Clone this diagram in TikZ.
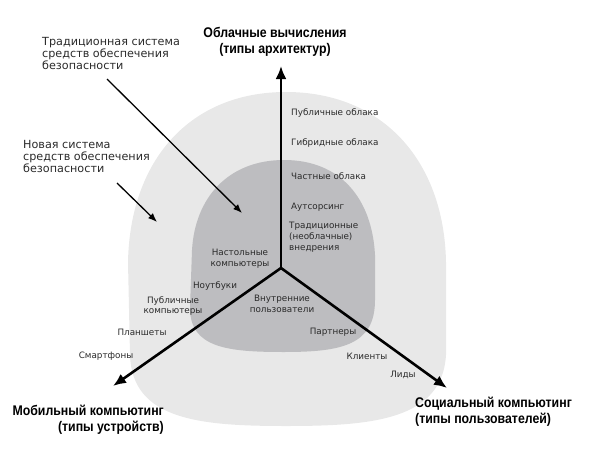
\documentclass[tikz,border=0pt]{standalone}
\usepackage{fontspec}
\setmainfont{DejaVu Sans}
\newfontfamily\titlefont[FakeStretch=0.88]{Liberation Sans}
\usetikzlibrary{arrows.meta}
\definecolor{outerfill}{HTML}{E8E8E8}
\definecolor{innerfill}{HTML}{BDBDC0}
\definecolor{txt}{HTML}{2A2A2A}
\tikzset{
  lbl/.style={inner sep=0pt, text=txt, font=\fontsize{8.8}{10.8}\selectfont, align=center},
  lbll/.style={lbl, align=left, anchor=west},
  note/.style={inner sep=0pt, anchor=north west, align=left, text=txt, font=\fontsize{11.2}{12}\selectfont},
  ttl/.style={inner sep=0pt, font=\titlefont\bfseries\fontsize{14}{16}\selectfont, text=black},
  axis/.style={line width=2.6pt, line join=round, -{Latex[length=13pt,width=11pt]}},
  pointer/.style={line width=1.3pt, -{Latex[length=9pt,width=7pt]}}
}
\begin{document}
\begin{tikzpicture}[x=1pt,y=-1pt]
\useasboundingbox (0,0) rectangle (591,463);
% outer region
\fill[outerfill] (286,92) .. controls (190,92) and (130,160) .. (128,262)
  -- (130,355) .. controls (132,420) and (200,426) .. (286,426)
  .. controls (372,426) and (442,420) .. (446,355)
  -- (446,262) .. controls (444,160) and (382,92) .. (286,92) -- cycle;
% inner region
\fill[innerfill] (284,160) .. controls (228,160) and (195,198) .. (192,250)
  -- (190,308) .. controls (190,348) and (228,352) .. (284,352)
  .. controls (342,352) and (375,345) .. (375,300)
  -- (375,255) .. controls (372,198) and (340,160) .. (284,160) -- cycle;
% axes
\coordinate (o) at (281,268);
\coordinate (tu) at (281,66);
\coordinate (tl) at (113,386);
\coordinate (tr) at (447,388);
\draw[axis] (o) -- (tu);
\draw[axis] (o) -- (tl);
\draw[axis] (o) -- (tr);
% titles
\node[ttl, align=center] (tcloud) at (275,42) {Облачные вычисления\\(типы архитектур)};
\node[ttl, align=right, anchor=north east] (tmob) at (164,405) {Мобильный компьютинг\\(типы устройств)};
\node[ttl, align=left, anchor=north west] (tsoc) at (415,397) {Социальный компьютинг\\(типы пользователей)};
% notes
\node[note] (ntrad) at (42,37) {Традиционная система\\средств обеспечения\\безопасности};
\node[note] (nnew) at (23,140) {Новая система\\средств обеспечения\\безопасности};
\coordinate (ptA) at (107,79);
\coordinate (ptAend) at (242,213);
\coordinate (ptB) at (117,183);
\coordinate (ptBend) at (157,222);
\draw[pointer] (ptA) -- (ptAend);
\draw[pointer] (ptB) -- (ptBend);
% cloud labels
\node[lbll] (c1) at (291,113) {Публичные облака};
\node[lbll] (c2) at (291,143) {Гибридные облака};
\node[lbll] (c3) at (291,176) {Частные облака};
\node[lbll] (c4) at (291,207) {Аутсорсинг};
\node[lbll] (c5) at (289,237) {Традиционные\\(необлачные)\\внедрения};
% mobile labels
\node[lbl] (m1) at (240,259) {Настольные\\компьютеры};
\node[lbl] (m2) at (215,286) {Ноутбуки};
\node[lbl] (m3) at (173,306) {Публичные\\компьютеры};
\node[lbl] (m4) at (142,332) {Планшеты};
\node[lbl] (m5) at (106,356) {Смартфоны};
% social labels
\node[lbl] (s1) at (282,304) {Внутренние\\пользователи};
\node[lbl] (s2) at (333,332) {Партнеры};
\node[lbl] (s3) at (367,356) {Клиенты};
\node[lbl] (s4) at (403,375) {Лиды};
\end{tikzpicture}
\end{document}
